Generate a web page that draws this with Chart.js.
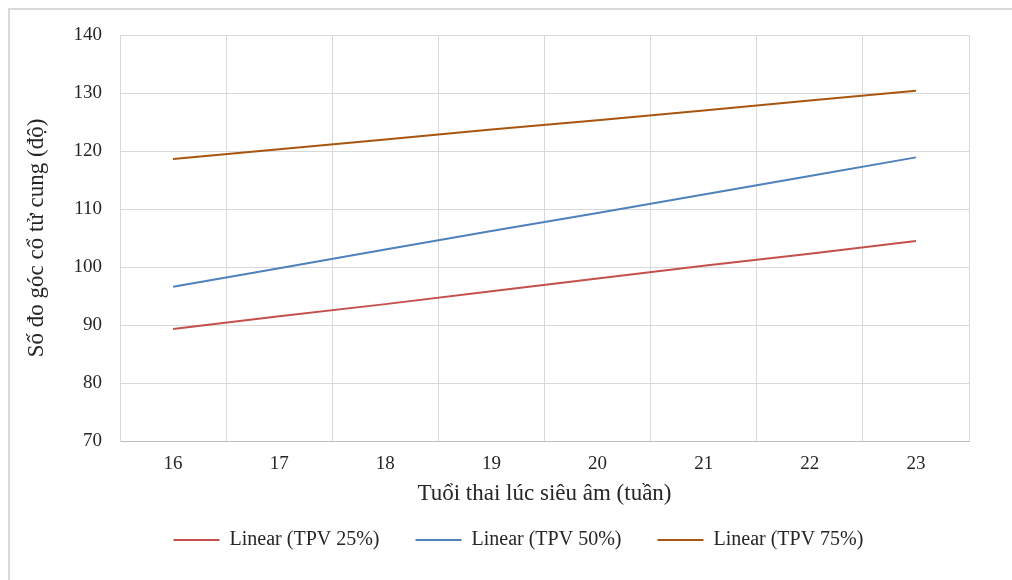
<!DOCTYPE html>
<html>
<head>
<meta charset="utf-8">
<script src="https://cdn.jsdelivr.net/npm/chart.js@4/dist/chart.umd.min.js"></script>
<style>
  html, body { margin: 0; padding: 0; background: #ffffff; }
  #frame { position: absolute; left: 8px; top: 8px; width: 1020px; height: 590px;
           border: 2px solid #d9d9d9; box-sizing: border-box; }
  #wrap { position: absolute; left: 0; top: 0; width: 1012px; height: 580px; }
</style>
</head>
<body>
<div id="frame"></div>
<div id="wrap"><canvas id="chart" width="1012" height="580"></canvas></div>
<script>
// Gestational age at ultrasound (weeks)
const weeks = ['16', '17', '18', '19', '20', '21', '22', '23'];

// Linear trend of cervical angle (degrees) per percentile
const tpv25 = [89.3, 91.5, 93.6, 95.8, 98.0, 100.2, 102.3, 104.5];
const tpv50 = [96.6, 99.8, 103.0, 106.2, 109.3, 112.5, 115.7, 118.9];
const tpv75 = [118.6, 120.3, 122.0, 123.7, 125.3, 127.0, 128.7, 130.4];

const seriesNames = ['Linear (TPV 25%)', 'Linear (TPV 50%)', 'Linear (TPV 75%)'];
const seriesColors = ['#c4504d', '#4f81bd', '#a8560f'];

const yMin = 70, yMax = 140, yStep = 10;

const FONT = '"Liberation Serif", "Times New Roman", serif';
const TEXT = '#262626';

function makeSet(label, data, color) {
  return {
    label: label,
    data: data,
    borderColor: color,
    backgroundColor: color,
    borderWidth: 2,
    pointRadius: 0,
    pointHoverRadius: 0,
    pointStyle: 'line',
    tension: 0,
    fill: false
  };
}

new Chart(document.getElementById('chart'), {
  type: 'line',
  data: {
    labels: weeks,
    datasets: [
      makeSet(seriesNames[0], tpv25, seriesColors[0]),
      makeSet(seriesNames[1], tpv50, seriesColors[1]),
      makeSet(seriesNames[2], tpv75, seriesColors[2])
    ]
  },
  options: {
    responsive: false,
    animation: false,
    events: [],
    layout: { padding: { left: 68, top: 35, right: 43, bottom: 20 } },
    plugins: {
      tooltip: { enabled: false },
      legend: {
        position: 'bottom',
        labels: {
          usePointStyle: true,
          pointStyle: 'line',
          pointStyleWidth: 46,
          padding: 36,
          color: TEXT,
          font: { family: FONT, size: 20 }
        }
      }
    },
    scales: {
      x: {
        type: 'category',
        offset: true,
        grid: { offset: true, color: '#d9d9d9', lineWidth: 1, drawTicks: false },
        border: { color: '#bfbfbf', width: 1 },
        ticks: { padding: 12, color: TEXT, font: { family: FONT, size: 19 }, maxRotation: 0 },
        title: {
          display: true,
          text: 'Tuổi thai lúc siêu âm (tuần)',
          color: TEXT,
          font: { family: FONT, size: 23 },
          padding: { top: 5, bottom: -13.8 }
        },
        afterFit: function (axis) { axis.height = 53; }
      },
      y: {
        min: yMin,
        max: yMax,
        grid: { color: '#d9d9d9', lineWidth: 1, drawTicks: false },
        border: { color: '#d9d9d9', width: 1 },
        ticks: { stepSize: yStep, padding: 18, color: TEXT, font: { family: FONT, size: 19 } },
        title: {
          display: true,
          text: 'Số đo góc cổ tử cung (độ)',
          color: TEXT,
          font: { family: FONT, size: 23 },
          padding: { top: -44.8, bottom: 0 }
        },
        afterFit: function (axis) { axis.width = 52; }
      }
    }
  }
});
</script>
</body>
</html>
